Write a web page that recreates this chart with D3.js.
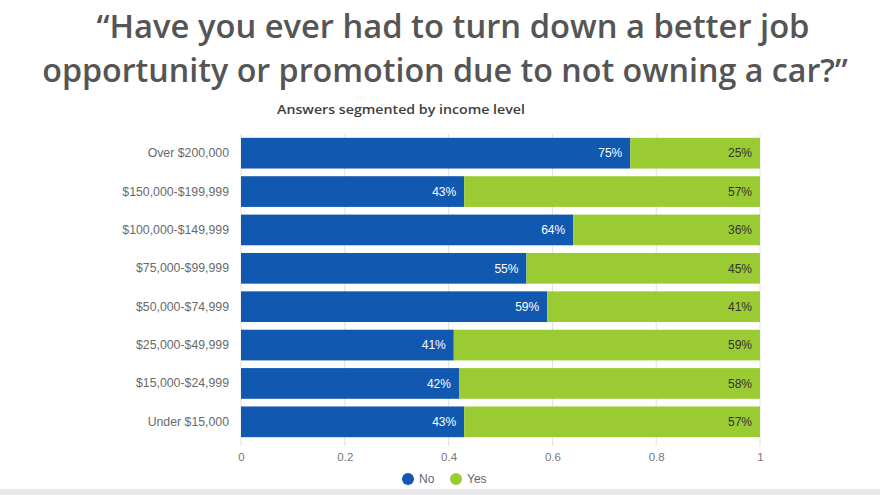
<!DOCTYPE html>
<html><head><meta charset="utf-8">
<script src="https://cdn.jsdelivr.net/npm/d3@7"></script>
<style>body{margin:0;background:#fff}svg{display:block}</style>
</head><body><svg id="c" width="880" height="495"></svg>
<script>
const categories = ["Over $200,000","$150,000-$199,999","$100,000-$149,999","$75,000-$99,999","$50,000-$74,999","$25,000-$49,999","$15,000-$24,999","Under $15,000"];
const noValues  = [0.75,0.43,0.64,0.55,0.59,0.41,0.42,0.43];
const yesValues = [0.25,0.57,0.36,0.45,0.41,0.59,0.58,0.57];
const seriesNames = ["No","Yes"];
const xTicks = [0,0.2,0.4,0.6,0.8,1];

const colors = {No:"#1158b0", Yes:"#9bcb32"};
const svg = d3.select("#c");
svg.append("rect").attr("x",0).attr("y",489).attr("width",880).attr("height",6).attr("fill","#e8e8ea");

// Titles
const t = svg.append("g").attr("font-family","'Open Sans', sans-serif").attr("font-weight",600).attr("fill","#555555").attr("text-anchor","middle");
const l1 = t.append("text").attr("x",453).attr("y",38).attr("font-size",33).text("\u201CHave you ever had to turn down a better job");
const l2 = t.append("text").attr("x",445).attr("y",82).attr("font-size",33).text("opportunity or promotion due to not owning a car?\u201D");
// fit each line to its measured width in the reference
[[l1,713],[l2,806]].forEach(([el,w])=>{
  const nat = el.node().getComputedTextLength();
  const fs = 33*Math.min(1,w/nat);
  el.attr("font-size",fs).attr("transform",`translate(${+el.attr("x")},${+el.attr("y")}) scale(${w/(nat*fs/33)},${33/fs}) translate(${-el.attr("x")},${-el.attr("y")})`);
});
svg.append("text").attr("x",401).attr("y",114).attr("text-anchor","middle").attr("font-family","'Open Sans', sans-serif").attr("font-weight",600).attr("font-size",13).attr("fill","#404040").attr("textLength",248).attr("lengthAdjust","spacingAndGlyphs").text("Answers segmented by income level");

const x = d3.scaleLinear().domain([0,1]).range([241,760]);
const y = d3.scaleBand().domain(categories).range([134,441]).paddingInner(0.2).paddingOuter(0.1);

// grid
svg.append("g").selectAll("line").data(xTicks).join("line")
  .attr("x1",d=>x(d)).attr("x2",d=>x(d)).attr("y1",134).attr("y2",446)
  .attr("stroke","#e0e0e0").attr("stroke-width",1);

// x axis labels
const xa = svg.append("g").attr("transform","translate(0,441)").call(d3.axisBottom(x).tickValues(xTicks).tickSize(0).tickPadding(12).tickFormat(d=>d3.format("")(d)));
xa.select(".domain").remove();
xa.selectAll("text").attr("font-family","'Liberation Sans', Arial, sans-serif").attr("font-size",11.5).attr("fill","#777");

// y axis
const ya = svg.append("g").attr("transform","translate(229,0)").call(d3.axisLeft(y).tickSize(0).tickPadding(0));
ya.select(".domain").remove();
ya.selectAll("text").attr("font-family","'Liberation Sans', Arial, sans-serif").attr("font-size",12.3).attr("fill","#6a6a6a");

const rows = categories.map((c,i)=>({c, No:noValues[i], Yes:yesValues[i]}));
const stack = d3.stack().keys(seriesNames)(rows);
const g = svg.append("g");
stack.forEach(s=>{
  const key = s.key;
  g.selectAll(null).data(s).join("rect")
    .attr("x",d=>x(d[0])).attr("width",d=>x(d[1])-x(d[0]))
    .attr("y",d=>y(d.data.c)).attr("height",y.bandwidth())
    .attr("fill",colors[key]);
  g.selectAll(null).data(s).join("text")
    .attr("x",d=>x(d[1])-8).attr("y",d=>y(d.data.c)+y.bandwidth()/2).attr("dy","0.35em")
    .attr("text-anchor","end").attr("font-family","'Liberation Sans', Arial, sans-serif").attr("font-size",12)
    .attr("fill",key==="No"?"#ffffff":"#333")
    .text(d=>Math.round(d.data[key]*100)+"%");
});

// legend
const lg = svg.append("g").attr("font-family","'Liberation Sans', Arial, sans-serif").attr("font-size",12).attr("fill","#666");
const lx = [408,456];
seriesNames.forEach((n,i)=>{
  lg.append("circle").attr("cx",lx[i]).attr("cy",479).attr("r",6).attr("fill",colors[n]);
  lg.append("text").attr("x",lx[i]+11).attr("y",479).attr("dy","0.35em").text(n);
});
</script></body></html>
